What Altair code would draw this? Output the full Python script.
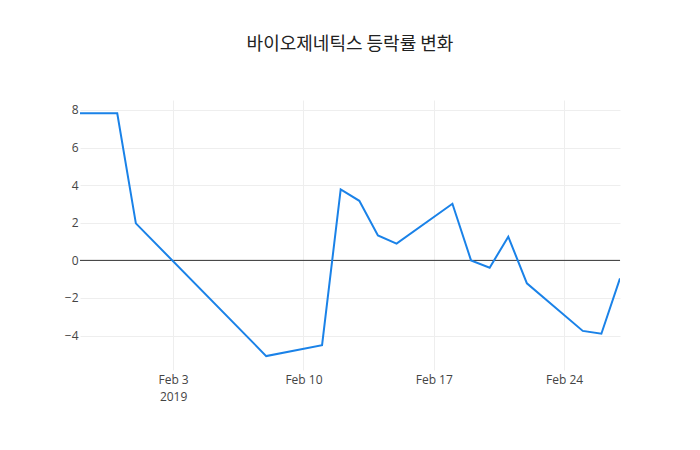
import pandas as pd
import altair as alt

# 일자별 등락률 (%)
dates = [
    "2019-01-29", "2019-01-30", "2019-01-31", "2019-02-01", "2019-02-08",
    "2019-02-11", "2019-02-12", "2019-02-13", "2019-02-14", "2019-02-15",
    "2019-02-18", "2019-02-19", "2019-02-20", "2019-02-21", "2019-02-22",
    "2019-02-25", "2019-02-26", "2019-02-27",
]
rates = [
    7.82, 7.82, 7.82, 1.97, -5.09,
    -4.51, 3.78, 3.17, 1.33, 0.89,
    3.01, 0.0, -0.39, 1.26, -1.22,
    -3.75, -3.90, -0.96,
]
tick_dates = ["2019-02-03", "2019-02-10", "2019-02-17", "2019-02-24"]
y_ticks = [-4, -2, 0, 2, 4, 6, 8]

source = pd.DataFrame({"date": pd.to_datetime(dates), "rate": rates})
zero = pd.DataFrame({"y": [0]})

tick_vals = [alt.DateTime(year=2019, month=2, date=int(d[-2:])) for d in tick_dates]

x_enc = alt.X(
    "date:T",
    scale=alt.Scale(domain=[alt.DateTime(year=2019, month=1, date=29),
                            alt.DateTime(year=2019, month=2, date=27)]),
    axis=alt.Axis(
        values=tick_vals,
        labelExpr="date(datum.value) == 3 ? ['Feb 3', '2019'] : timeFormat(datum.value, '%b %-d')",
        title=None, grid=True, gridColor="#eeeeee", domain=False, ticks=False,
        labelColor="#444444", labelFont="Open Sans", labelFontSize=12, labelPadding=4,
        labelLineHeight=17,
    ),
)
y_scale = alt.Scale(domain=[-5.83, 8.53], nice=False, zero=False)

line = alt.Chart(source).mark_line(color="#1a82e8", strokeWidth=2, clip=True).encode(
    x=x_enc,
    y=alt.Y(
        "rate:Q", scale=y_scale,
        axis=alt.Axis(
            values=y_ticks, title=None, grid=True, gridColor="#eeeeee", domain=False,
            ticks=False, labelColor="#444444", labelFont="Open Sans", labelFontSize=12,
            labelPadding=2,
        ),
    ),
)

zero_line = alt.Chart(zero).mark_rule(color="#333333", strokeWidth=1).encode(
    y=alt.Y("y:Q", scale=y_scale)
)

chart = (zero_line + line).properties(
    width=540,
    height=270,
    title=alt.TitleParams(
        "바이오제네틱스 등락률 변화",
        font="Noto Sans CJK KR", fontSize=18, fontWeight="normal", color="#222222",
        anchor="middle", offset=46,
    ),
    autosize=alt.AutoSizeParams(type="none"),
    padding={"left": 72, "top": 92, "right": 60, "bottom": 60},
).configure_view(stroke=None)

chart.save("out.html", embed_options={"renderer": "svg", "actions": False})
